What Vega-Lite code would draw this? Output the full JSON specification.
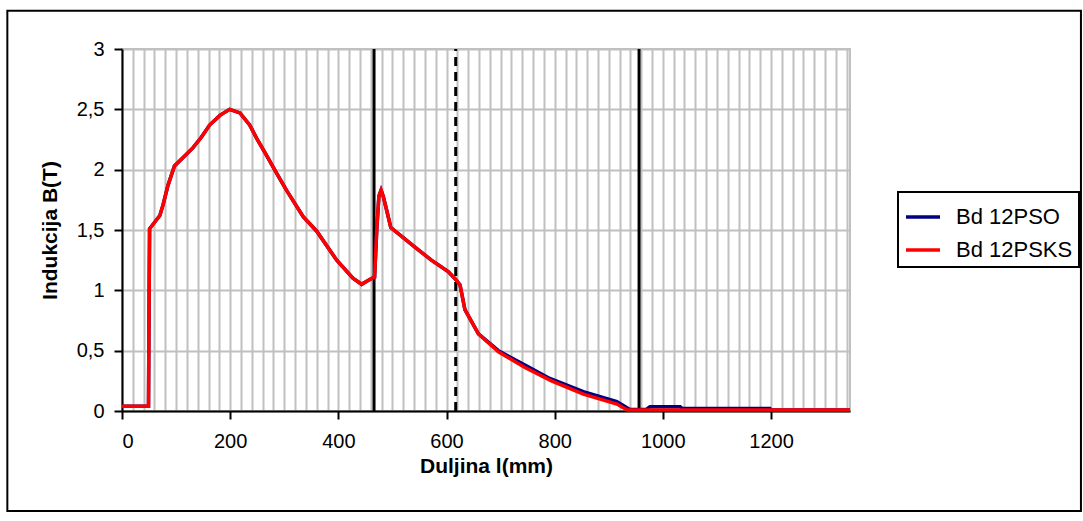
{
  "$schema": "https://vega.github.io/schema/vega-lite/v6.json",
  "width": 728,
  "height": 362,
  "autosize": {"type": "none"},
  "padding": {"left": 122, "top": 49, "right": 233, "bottom": 110},
  "background": "white",
  "config": {
    "font": "Liberation Sans",
    "view": {"stroke": "#c0c0c0", "strokeWidth": 2},
    "axis": {
      "labelFont": "Liberation Sans",
      "labelFontSize": 20,
      "labelColor": "black",
      "titleFont": "Liberation Sans",
      "titleFontSize": 21,
      "titleFontWeight": "bold",
      "titleColor": "black",
      "domainColor": "black",
      "domainWidth": 2,
      "tickColor": "black",
      "tickWidth": 2,
      "tickSize": 8,
      "gridColor": "#c0c0c0",
      "gridWidth": 2
    },
    "legend": {
      "labelFont": "Liberation Sans",
      "labelFontSize": 22,
      "labelColor": "black",
      "strokeColor": "black",
      "strokeWidth": 2,
      "padding": 6,
      "symbolType": "stroke",
      "symbolSize": 1156,
      "symbolStrokeWidth": 3.5,
      "labelOffset": 14,
      "rowPadding": 3
    }
  },
  "datasets": {
    "curves": [
      {"l": 0, "B": 0.04, "series": "Bd 12PSO"},
      {"l": 49, "B": 0.04, "series": "Bd 12PSO"},
      {"l": 50, "B": 0.85, "series": "Bd 12PSO"},
      {"l": 51, "B": 1.51, "series": "Bd 12PSO"},
      {"l": 70, "B": 1.62, "series": "Bd 12PSO"},
      {"l": 76, "B": 1.71, "series": "Bd 12PSO"},
      {"l": 85, "B": 1.87, "series": "Bd 12PSO"},
      {"l": 97, "B": 2.03, "series": "Bd 12PSO"},
      {"l": 113, "B": 2.1, "series": "Bd 12PSO"},
      {"l": 131, "B": 2.18, "series": "Bd 12PSO"},
      {"l": 147, "B": 2.27, "series": "Bd 12PSO"},
      {"l": 162, "B": 2.37, "series": "Bd 12PSO"},
      {"l": 181, "B": 2.45, "series": "Bd 12PSO"},
      {"l": 199, "B": 2.5, "series": "Bd 12PSO"},
      {"l": 218, "B": 2.47, "series": "Bd 12PSO"},
      {"l": 236, "B": 2.37, "series": "Bd 12PSO"},
      {"l": 249, "B": 2.26, "series": "Bd 12PSO"},
      {"l": 267, "B": 2.12, "series": "Bd 12PSO"},
      {"l": 286, "B": 1.97, "series": "Bd 12PSO"},
      {"l": 304, "B": 1.83, "series": "Bd 12PSO"},
      {"l": 335, "B": 1.61, "series": "Bd 12PSO"},
      {"l": 360, "B": 1.49, "series": "Bd 12PSO"},
      {"l": 397, "B": 1.25, "series": "Bd 12PSO"},
      {"l": 427, "B": 1.1, "series": "Bd 12PSO"},
      {"l": 443, "B": 1.05, "series": "Bd 12PSO"},
      {"l": 458, "B": 1.09, "series": "Bd 12PSO"},
      {"l": 467, "B": 1.11, "series": "Bd 12PSO"},
      {"l": 471, "B": 1.5, "series": "Bd 12PSO"},
      {"l": 475, "B": 1.78, "series": "Bd 12PSO"},
      {"l": 479, "B": 1.83, "series": "Bd 12PSO"},
      {"l": 483, "B": 1.78, "series": "Bd 12PSO"},
      {"l": 489, "B": 1.67, "series": "Bd 12PSO"},
      {"l": 497, "B": 1.52, "series": "Bd 12PSO"},
      {"l": 541, "B": 1.36, "series": "Bd 12PSO"},
      {"l": 572, "B": 1.25, "series": "Bd 12PSO"},
      {"l": 603, "B": 1.155, "series": "Bd 12PSO"},
      {"l": 617, "B": 1.09, "series": "Bd 12PSO"},
      {"l": 625, "B": 1.045, "series": "Bd 12PSO"},
      {"l": 634, "B": 0.84, "series": "Bd 12PSO"},
      {"l": 659, "B": 0.64, "series": "Bd 12PSO"},
      {"l": 696, "B": 0.5, "series": "Bd 12PSO"},
      {"l": 745, "B": 0.38, "series": "Bd 12PSO"},
      {"l": 791, "B": 0.27, "series": "Bd 12PSO"},
      {"l": 853, "B": 0.16, "series": "Bd 12PSO"},
      {"l": 915, "B": 0.077, "series": "Bd 12PSO"},
      {"l": 939, "B": 0.012, "series": "Bd 12PSO"},
      {"l": 970, "B": 0.015, "series": "Bd 12PSO"},
      {"l": 976, "B": 0.035, "series": "Bd 12PSO"},
      {"l": 1032, "B": 0.035, "series": "Bd 12PSO"},
      {"l": 1036, "B": 0.02, "series": "Bd 12PSO"},
      {"l": 1198, "B": 0.02, "series": "Bd 12PSO"},
      {"l": 1200, "B": 0.008, "series": "Bd 12PSO"},
      {"l": 1346, "B": 0.008, "series": "Bd 12PSO"},
      {"l": 0, "B": 0.04, "series": "Bd 12PSKS"},
      {"l": 49, "B": 0.04, "series": "Bd 12PSKS"},
      {"l": 50, "B": 0.85, "series": "Bd 12PSKS"},
      {"l": 51, "B": 1.51, "series": "Bd 12PSKS"},
      {"l": 70, "B": 1.62, "series": "Bd 12PSKS"},
      {"l": 76, "B": 1.71, "series": "Bd 12PSKS"},
      {"l": 85, "B": 1.87, "series": "Bd 12PSKS"},
      {"l": 97, "B": 2.03, "series": "Bd 12PSKS"},
      {"l": 113, "B": 2.1, "series": "Bd 12PSKS"},
      {"l": 131, "B": 2.18, "series": "Bd 12PSKS"},
      {"l": 147, "B": 2.27, "series": "Bd 12PSKS"},
      {"l": 162, "B": 2.37, "series": "Bd 12PSKS"},
      {"l": 181, "B": 2.45, "series": "Bd 12PSKS"},
      {"l": 199, "B": 2.5, "series": "Bd 12PSKS"},
      {"l": 218, "B": 2.47, "series": "Bd 12PSKS"},
      {"l": 236, "B": 2.37, "series": "Bd 12PSKS"},
      {"l": 249, "B": 2.26, "series": "Bd 12PSKS"},
      {"l": 267, "B": 2.12, "series": "Bd 12PSKS"},
      {"l": 286, "B": 1.97, "series": "Bd 12PSKS"},
      {"l": 304, "B": 1.83, "series": "Bd 12PSKS"},
      {"l": 335, "B": 1.61, "series": "Bd 12PSKS"},
      {"l": 360, "B": 1.49, "series": "Bd 12PSKS"},
      {"l": 397, "B": 1.25, "series": "Bd 12PSKS"},
      {"l": 427, "B": 1.1, "series": "Bd 12PSKS"},
      {"l": 443, "B": 1.05, "series": "Bd 12PSKS"},
      {"l": 458, "B": 1.09, "series": "Bd 12PSKS"},
      {"l": 467, "B": 1.11, "series": "Bd 12PSKS"},
      {"l": 471, "B": 1.5, "series": "Bd 12PSKS"},
      {"l": 475, "B": 1.78, "series": "Bd 12PSKS"},
      {"l": 479, "B": 1.83, "series": "Bd 12PSKS"},
      {"l": 483, "B": 1.78, "series": "Bd 12PSKS"},
      {"l": 489, "B": 1.67, "series": "Bd 12PSKS"},
      {"l": 497, "B": 1.52, "series": "Bd 12PSKS"},
      {"l": 541, "B": 1.36, "series": "Bd 12PSKS"},
      {"l": 572, "B": 1.25, "series": "Bd 12PSKS"},
      {"l": 603, "B": 1.155, "series": "Bd 12PSKS"},
      {"l": 617, "B": 1.09, "series": "Bd 12PSKS"},
      {"l": 625, "B": 1.045, "series": "Bd 12PSKS"},
      {"l": 634, "B": 0.84, "series": "Bd 12PSKS"},
      {"l": 659, "B": 0.64, "series": "Bd 12PSKS"},
      {"l": 696, "B": 0.49, "series": "Bd 12PSKS"},
      {"l": 745, "B": 0.36, "series": "Bd 12PSKS"},
      {"l": 794, "B": 0.25, "series": "Bd 12PSKS"},
      {"l": 853, "B": 0.14, "series": "Bd 12PSKS"},
      {"l": 915, "B": 0.058, "series": "Bd 12PSKS"},
      {"l": 934, "B": 0.008, "series": "Bd 12PSKS"},
      {"l": 1346, "B": 0.008, "series": "Bd 12PSKS"}
    ],
    "solidLines": [{"l": 466}, {"l": 956}],
    "dashedLines": [{"l": 617}]
  },
  "layer": [
    {
      "data": {"name": "solidLines"},
      "mark": {"type": "rule", "color": "black", "strokeWidth": 3},
      "encoding": {
        "x": {
          "field": "l",
          "type": "quantitative",
          "scale": {"domain": [0, 1346], "nice": false, "zero": false},
          "axis": {
            "title": "Duljina l(mm)",
            "values": [0, 20, 40, 60, 80, 100, 120, 140, 160, 180, 200, 220, 240, 260, 280, 300, 320, 340, 360, 380, 400, 420, 440, 460, 480, 500, 520, 540, 560, 580, 600, 620, 640, 660, 680, 700, 720, 740, 760, 780, 800, 820, 840, 860, 880, 900, 920, 940, 960, 980, 1000, 1020, 1040, 1060, 1080, 1100, 1120, 1140, 1160, 1180, 1200, 1220, 1240, 1260, 1280, 1300, 1320, 1340],
            "tickCount": 200,
            "grid": true,
            "labelExpr": "datum.value % 200 === 0 && datum.value <= 1200 ? format(datum.value, 'd') : ''",
            "labelOverlap": false,
            "labelPadding": 12,
            "titlePadding": 4,
            "tickOpacity": {"condition": {"test": "datum.value % 200 === 0 && datum.value <= 1200", "value": 1}, "value": 0}
          }
        },
        "y": {
          "datum": 0,
          "type": "quantitative",
          "scale": {"domain": [0, 3], "nice": false},
          "axis": {
            "title": "Indukcija B(T)",
            "values": [0, 0.5, 1, 1.5, 2, 2.5, 3],
            "grid": true,
            "labelExpr": "replace(format(datum.value, '.1~f'), '.', ',')",
            "labelPadding": 10,
            "titlePadding": 16
          }
        },
        "y2": {"datum": 3}
      }
    },
    {
      "data": {"name": "dashedLines"},
      "mark": {"type": "rule", "color": "black", "strokeWidth": 3, "strokeDash": [9, 6]},
      "encoding": {
        "x": {"field": "l", "type": "quantitative"},
        "y": {"datum": 0, "type": "quantitative"},
        "y2": {"datum": 3}
      }
    },
    {
      "data": {"name": "curves"},
      "transform": [{"filter": "datum.series === 'Bd 12PSO'"}],
      "mark": {"type": "line", "strokeWidth": 3.5},
      "encoding": {
        "x": {"field": "l", "type": "quantitative"},
        "y": {"field": "B", "type": "quantitative"},
        "color": {
          "field": "series",
          "type": "nominal",
          "scale": {"domain": ["Bd 12PSO", "Bd 12PSKS"], "range": ["#000080", "#ff0000"]},
          "legend": {"title": null, "orient": "none", "legendX": 776, "legendY": 143}
        }
      }
    },
    {
      "data": {"name": "curves"},
      "transform": [{"filter": "datum.series === 'Bd 12PSKS'"}],
      "mark": {"type": "line", "strokeWidth": 3.5},
      "encoding": {
        "x": {"field": "l", "type": "quantitative"},
        "y": {"field": "B", "type": "quantitative"},
        "color": {"field": "series", "type": "nominal"}
      }
    },
    {
      "data": {"values": [{}]},
      "mark": {"type": "rect", "filled": false, "stroke": "black", "strokeWidth": 2, "clip": false},
      "encoding": {
        "x": {"datum": -212, "type": "quantitative"},
        "x2": {"datum": 1773},
        "y": {"datum": 3.317, "type": "quantitative"},
        "y2": {"datum": -0.829}
      }
    }
  ]
}
